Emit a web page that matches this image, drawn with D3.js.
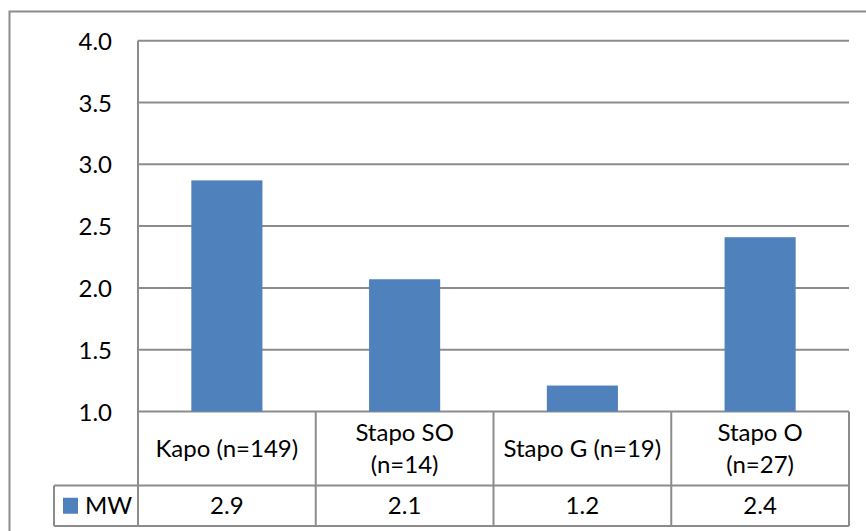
<!DOCTYPE html>
<html>
<head>
<meta charset="utf-8">
<script src="https://cdn.jsdelivr.net/npm/d3@7"></script>
<style>
  html, body { margin: 0; padding: 0; background: #fff; }
  svg { display: block; }
  text { font-family: Lato, "Open Sans", sans-serif; fill: #000; }
</style>
</head>
<body>
<svg id="chart" width="866" height="531"></svg>
<script>
const categories = ["Kapo (n=149)", "Stapo SO (n=14)", "Stapo G (n=19)", "Stapo O (n=27)"];
const categoryLines = [["Kapo (n=149)"], ["Stapo SO", "(n=14)"], ["Stapo G (n=19)"], ["Stapo O", "(n=27)"]];
const seriesName = "MW";
const values = [2.87, 2.07, 1.21, 2.41];
const yTicks = [1.0, 1.5, 2.0, 2.5, 3.0, 3.5, 4.0];

const W = 866, H = 531;
const plot = { left: 138, right: 849, top: 40.7, bottom: 411.5 };
const tableRow1Bottom = 485.5, tableBottom = 526;
const legendLeft = 54;
const grid = "#8c8c8c";
const barColor = "#4f81bd";
const fontSize = 24;

const svg = d3.select("#chart");

// outer chart border (clipped on right and bottom)
svg.append("rect")
  .attr("x", 9.5).attr("y", 11.5).attr("width", 900).attr("height", 600)
  .attr("fill", "none").attr("stroke", grid).attr("stroke-width", 2);

const x = d3.scaleBand().domain(categories).range([plot.left, plot.right])
  .paddingInner(0.6).paddingOuter(0.3);
const y = d3.scaleLinear().domain([1, 4]).range([plot.bottom, plot.top]);

// gridlines
svg.append("g").selectAll("line").data(yTicks).join("line")
  .attr("x1", plot.left).attr("x2", plot.right)
  .attr("y1", d => y(d)).attr("y2", d => y(d))
  .attr("stroke", grid).attr("stroke-width", 2);

// y axis labels
const yAxis = d3.axisLeft(y).tickValues(yTicks).tickFormat(d3.format(".1f")).tickSize(0).tickPadding(26);
const ya = svg.append("g").attr("transform", `translate(${plot.left},1)`).call(yAxis);
ya.select(".domain").remove();
ya.selectAll("text").style("font-size", fontSize + "px").attr("font-family", "Lato").attr("fill", "#000");

// bars
svg.append("g").selectAll("rect").data(values).join("rect")
  .attr("x", (d, i) => x(categories[i]))
  .attr("width", x.bandwidth())
  .attr("y", d => y(d))
  .attr("height", d => y(1) - y(d))
  .attr("fill", barColor);

// data table
const step = x.step();
const tg = svg.append("g");
// vertical axis line extended through table
tg.append("line").attr("x1", plot.left).attr("x2", plot.left).attr("y1", plot.top).attr("y2", tableBottom)
  .attr("stroke", grid).attr("stroke-width", 2);
// column separators
categories.forEach((c, i) => {
  const xr = x(c) + x.bandwidth() + (step - x.bandwidth()) / 2;
  tg.append("line").attr("x1", xr).attr("x2", xr).attr("y1", plot.bottom).attr("y2", tableBottom)
    .attr("stroke", grid).attr("stroke-width", 2);
});
// horizontal lines
tg.append("line").attr("x1", legendLeft).attr("x2", plot.right).attr("y1", tableRow1Bottom).attr("y2", tableRow1Bottom)
  .attr("stroke", grid).attr("stroke-width", 2);
tg.append("line").attr("x1", legendLeft).attr("x2", plot.right).attr("y1", tableBottom).attr("y2", tableBottom)
  .attr("stroke", grid).attr("stroke-width", 2);
tg.append("line").attr("x1", legendLeft).attr("x2", legendLeft).attr("y1", tableRow1Bottom).attr("y2", tableBottom)
  .attr("stroke", grid).attr("stroke-width", 2);

// category labels
const lineH = 32;
const row1Mid = (plot.bottom + tableRow1Bottom) / 2;
categories.forEach((c, i) => {
  const cx = x(c) + x.bandwidth() / 2;
  const lines = categoryLines[i];
  const t = tg.append("text").attr("text-anchor", "middle").style("font-size", fontSize + "px");
  lines.forEach((l, k) => {
    t.append("tspan").attr("x", cx)
      .attr("y", row1Mid + (k - (lines.length - 1) / 2) * lineH)
      .attr("dy", "0.35em").text(l);
  });
});

// values row
const row2Mid = (tableRow1Bottom + tableBottom) / 2;
tg.selectAll("text.val").data(values).join("text").attr("class", "val")
  .attr("x", (d, i) => x(categories[i]) + x.bandwidth() / 2)
  .attr("y", row2Mid).attr("dy", "0.35em")
  .attr("text-anchor", "middle").style("font-size", fontSize + "px")
  .text(d => d3.format(".1f")(d));

// legend key
tg.append("rect").attr("x", 63).attr("y", row2Mid - 8).attr("width", 15).attr("height", 16).attr("fill", barColor);
tg.append("text").attr("x", 85).attr("y", row2Mid).attr("dy", "0.35em").style("font-size", fontSize + "px").text(seriesName);
</script>
</body>
</html>
